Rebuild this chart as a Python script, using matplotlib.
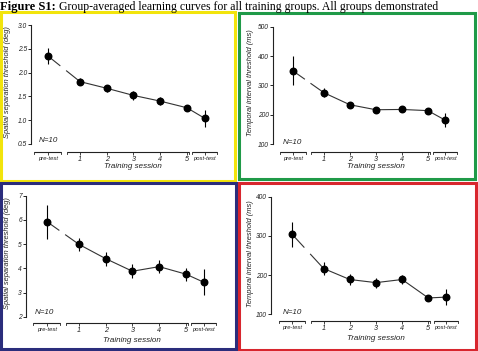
import matplotlib
matplotlib.use("Agg")
import matplotlib.pyplot as plt
from matplotlib.patches import Rectangle
import numpy as np

W, H = 478, 351

# ---------------- data ----------------
session_labels = ["pre-test", "1", "2", "3", "4", "5", "post-test"]

p1_mean = [2.35, 1.81, 1.67, 1.52, 1.40, 1.26, 1.04]
p1_err = [0.17, 0.07, 0.07, 0.10, 0.08, 0.06, 0.18]

p2_mean = [350, 275, 234, 217, 218, 214, 182]
p2_err = [50, 15, 10, 10, 10, 10, 24]

p3_mean = [5.93, 4.99, 4.40, 3.88, 4.07, 3.76, 3.43]
p3_err = [0.70, 0.26, 0.29, 0.28, 0.28, 0.27, 0.53]

p4_mean = [304, 217, 189, 181, 189, 142, 144]
p4_err = [31, 16, 14, 13, 12, 8, 20]

spatial_label = "Spatial separation threshold (deg)"
temporal_label = "Temporal interval threshold (ms)"
xlabel = "Training session"
n_text = "N=10"
caption_bold = "Figure S1:"
caption_rest = " Group-averaged learning curves for all training groups. All groups demonstrated"

# ---------------- layout ----------------
x_pos = [-0.2, 1, 2, 3, 4, 5, 5.66]
segments = [(-0.7, 0.3), (0.5, 5.07), (5.2, 6.13)]
gap = (0.25, 0.5)

fig = plt.figure(figsize=(W / 100, H / 100), dpi=100)

SANS = "Liberation Sans"
TXT = "#222222"


def px_axes(left, right, top, bottom):
    return [left / W, 1 - bottom / H, (right - left) / W, (bottom - top) / H]


panels = [
    dict(rect=px_axes(31, 219, 25, 152), xlim=(-0.83, 6.2), ylim=(0.33, 3.0),
         yticks=[0.5, 1.0, 1.5, 2.0, 2.5, 3.0], yfmt="{:.1f}", mean=p1_mean, err=p1_err,
         ylabel=spatial_label, ylab_x=8, ylab_y=82, xlab_y=167, n_xy=(39, 140)),
    dict(rect=px_axes(273, 459, 26.7, 152), xlim=(-0.96, 6.2), ylim=(73, 500),
         yticks=[100, 200, 300, 400, 500], yfmt="{:d}", mean=p2_mean, err=p2_err,
         ylabel=temporal_label, ylab_x=250, ylab_y=83, xlab_y=167, n_xy=(283, 142)),
    dict(rect=px_axes(26, 218, 195.7, 323.3), xlim=(-0.98, 6.2), ylim=(1.73, 7),
         yticks=[2, 3, 4, 5, 6, 7], yfmt="{:d}", mean=p3_mean, err=p3_err,
         ylabel=spatial_label, ylab_x=8, ylab_y=253, xlab_y=340, n_xy=(35, 312)),
    dict(rect=px_axes(271, 459.7, 196.7, 320.7), xlim=(-1.01, 6.2), ylim=(84, 400),
         yticks=[100, 200, 300, 400], yfmt="{:d}", mean=p4_mean, err=p4_err,
         ylabel=temporal_label, ylab_x=250, ylab_y=254, xlab_y=338, n_xy=(283, 312)),
]

for p in panels:
    ax = fig.add_axes(p["rect"])
    ax.set_xlim(*p["xlim"])
    ax.set_ylim(*p["ylim"])
    ax.patch.set_alpha(0)
    for s in ["top", "right", "bottom"]:
        ax.spines[s].set_visible(False)
    ax.spines["left"].set_bounds(p["yticks"][0], p["yticks"][-1])
    ax.spines["left"].set_linewidth(0.8)
    ax.spines["left"].set_color(TXT)

    ax.set_yticks(p["yticks"])
    ax.set_yticklabels([p["yfmt"].format(v) for v in p["yticks"]],
                       fontsize=4.8, fontstyle="italic", family=SANS, color=TXT)
    ax.tick_params(axis="y", length=2, width=0.7, pad=1, color=TXT)

    ax.set_xticks(x_pos)
    ax.set_xticklabels(session_labels, fontsize=4.2, fontstyle="italic",
                       family=SANS, color=TXT)
    ax.tick_params(axis="x", length=2, width=0.6, pad=1.0, color=TXT)
    for lab in ax.get_xticklabels():
        if lab.get_text() in ("1", "2", "3", "4", "5"):
            lab.set_fontsize(5.2)

    # broken x axis
    tr = ax.get_xaxis_transform()
    for a, b in segments:
        ax.plot([a, b], [0, 0], transform=tr, color=TXT, lw=0.8, clip_on=False,
                solid_capstyle="butt")
        for e in (a, b):
            ax.plot([e, e], [0, -2.0 / (p["rect"][3] * H)], transform=tr, color=TXT,
                    lw=0.6, clip_on=False)

    m = np.array(p["mean"], dtype=float)
    e = np.array(p["err"], dtype=float)
    xs = np.array(x_pos)

    # connecting line (broken between pre-test and session 1)
    ax.plot(xs[1:], m[1:], color="#333333", lw=0.8, zorder=2)
    x0, x1 = xs[0], xs[1]
    y0, y1 = m[0], m[1]
    ya = y0 + (y1 - y0) * (gap[0] - x0) / (x1 - x0)
    yb = y0 + (y1 - y0) * (gap[1] - x0) / (x1 - x0)
    ax.plot([x0, gap[0]], [y0, ya], color="#333333", lw=0.8, zorder=2)
    ax.plot([gap[1], x1], [yb, y1], color="#333333", lw=0.8, zorder=2)

    ax.errorbar(xs, m, yerr=e, fmt="o", color="black", ms=4.7, elinewidth=0.8,
                capsize=0, zorder=3)

    # labels
    left_px = p["rect"][0] * W
    width_px = p["rect"][2] * W
    bottom_px = (1 - p["rect"][1]) * H
    height_px = p["rect"][3] * H
    ax.set_ylabel(p["ylabel"], fontsize=5.4, fontstyle="italic", family=SANS, color=TXT,
                  va="center")
    ax.yaxis.set_label_coords((p["ylab_x"] - left_px) / width_px,
                              (bottom_px - p["ylab_y"]) / height_px)
    ax.text(((x_pos[1] + x_pos[5]) / 2 - p["xlim"][0]) / (p["xlim"][1] - p["xlim"][0]),
            (bottom_px - p["xlab_y"]) / height_px, xlabel, transform=ax.transAxes,
            ha="center", va="center", fontsize=5.8, fontstyle="italic", family=SANS,
            color=TXT)
    ax.text((p["n_xy"][0] - left_px) / width_px, (bottom_px - p["n_xy"][1]) / height_px,
            n_text, transform=ax.transAxes, ha="left", va="center", fontsize=5.8,
            fontstyle="italic", family=SANS, color=TXT)

# borders
borders = [
    ((1, 235, 12, 181), "#F2E40C"),
    ((239, 475, 13, 179), "#1F9A48"),
    ((1, 236, 183, 349), "#2B2D7C"),
    ((239, 476, 183, 350), "#D8262E"),
]
for (l, r, t, b), col in borders:
    rect = Rectangle((l / W, 1 - b / H), (r - l) / W, (b - t) / H, transform=fig.transFigure,
                     fill=False, edgecolor=col, lw=2.2, clip_on=False)
    fig.add_artist(rect)

# caption
t1 = fig.text(0.5 / W, 1 - 10 / H, caption_bold, fontsize=9, fontweight="bold",
              family="Liberation Serif", va="baseline", ha="left", color="black")
fig.canvas.draw()
bb = t1.get_window_extent(renderer=fig.canvas.get_renderer())
fig.text(bb.x1 / W, 1 - 10 / H, caption_rest, fontsize=8.5, family="Liberation Serif",
         va="baseline", ha="left", color="black")

fig.savefig("out.png", dpi=100)
